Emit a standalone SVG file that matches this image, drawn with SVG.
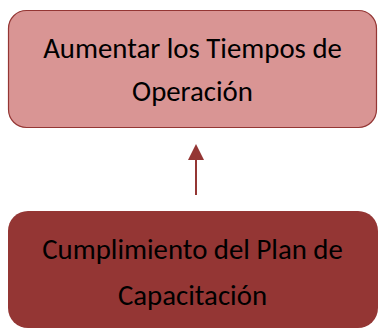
<svg xmlns="http://www.w3.org/2000/svg" width="378" height="329" viewBox="0 0 378 329">
<style>
.lbl{font-family:Carlito,Lato,"Open Sans",sans-serif;font-size:28.8px;fill:#000;text-anchor:middle}
.arrow{fill:#943634}
</style>
<rect width="378" height="329" fill="#fff"/>
<g id="node-top">
<rect x="8.5" y="10.5" width="368" height="117" rx="18" fill="#D99594" stroke="#943634" stroke-width="1.2"/>
<text class="lbl" x="192.5" y="58">Aumentar los Tiempos de</text>
<text class="lbl" x="192.5" y="101">Operación</text>
</g>
<g id="node-bottom">
<rect x="8" y="211" width="370" height="117" rx="20" fill="#943634"/>
<text class="lbl" x="192.5" y="259">Cumplimiento del Plan de</text>
<text class="lbl" x="192.5" y="305">Capacitación</text>
</g>
<g id="connectors">
<line x1="196" y1="195" x2="196" y2="159" stroke="#943634" stroke-width="2"/>
<path class="arrow" d="M188,160 L196,144 L204,160 Z"/>
</g>
</svg>
